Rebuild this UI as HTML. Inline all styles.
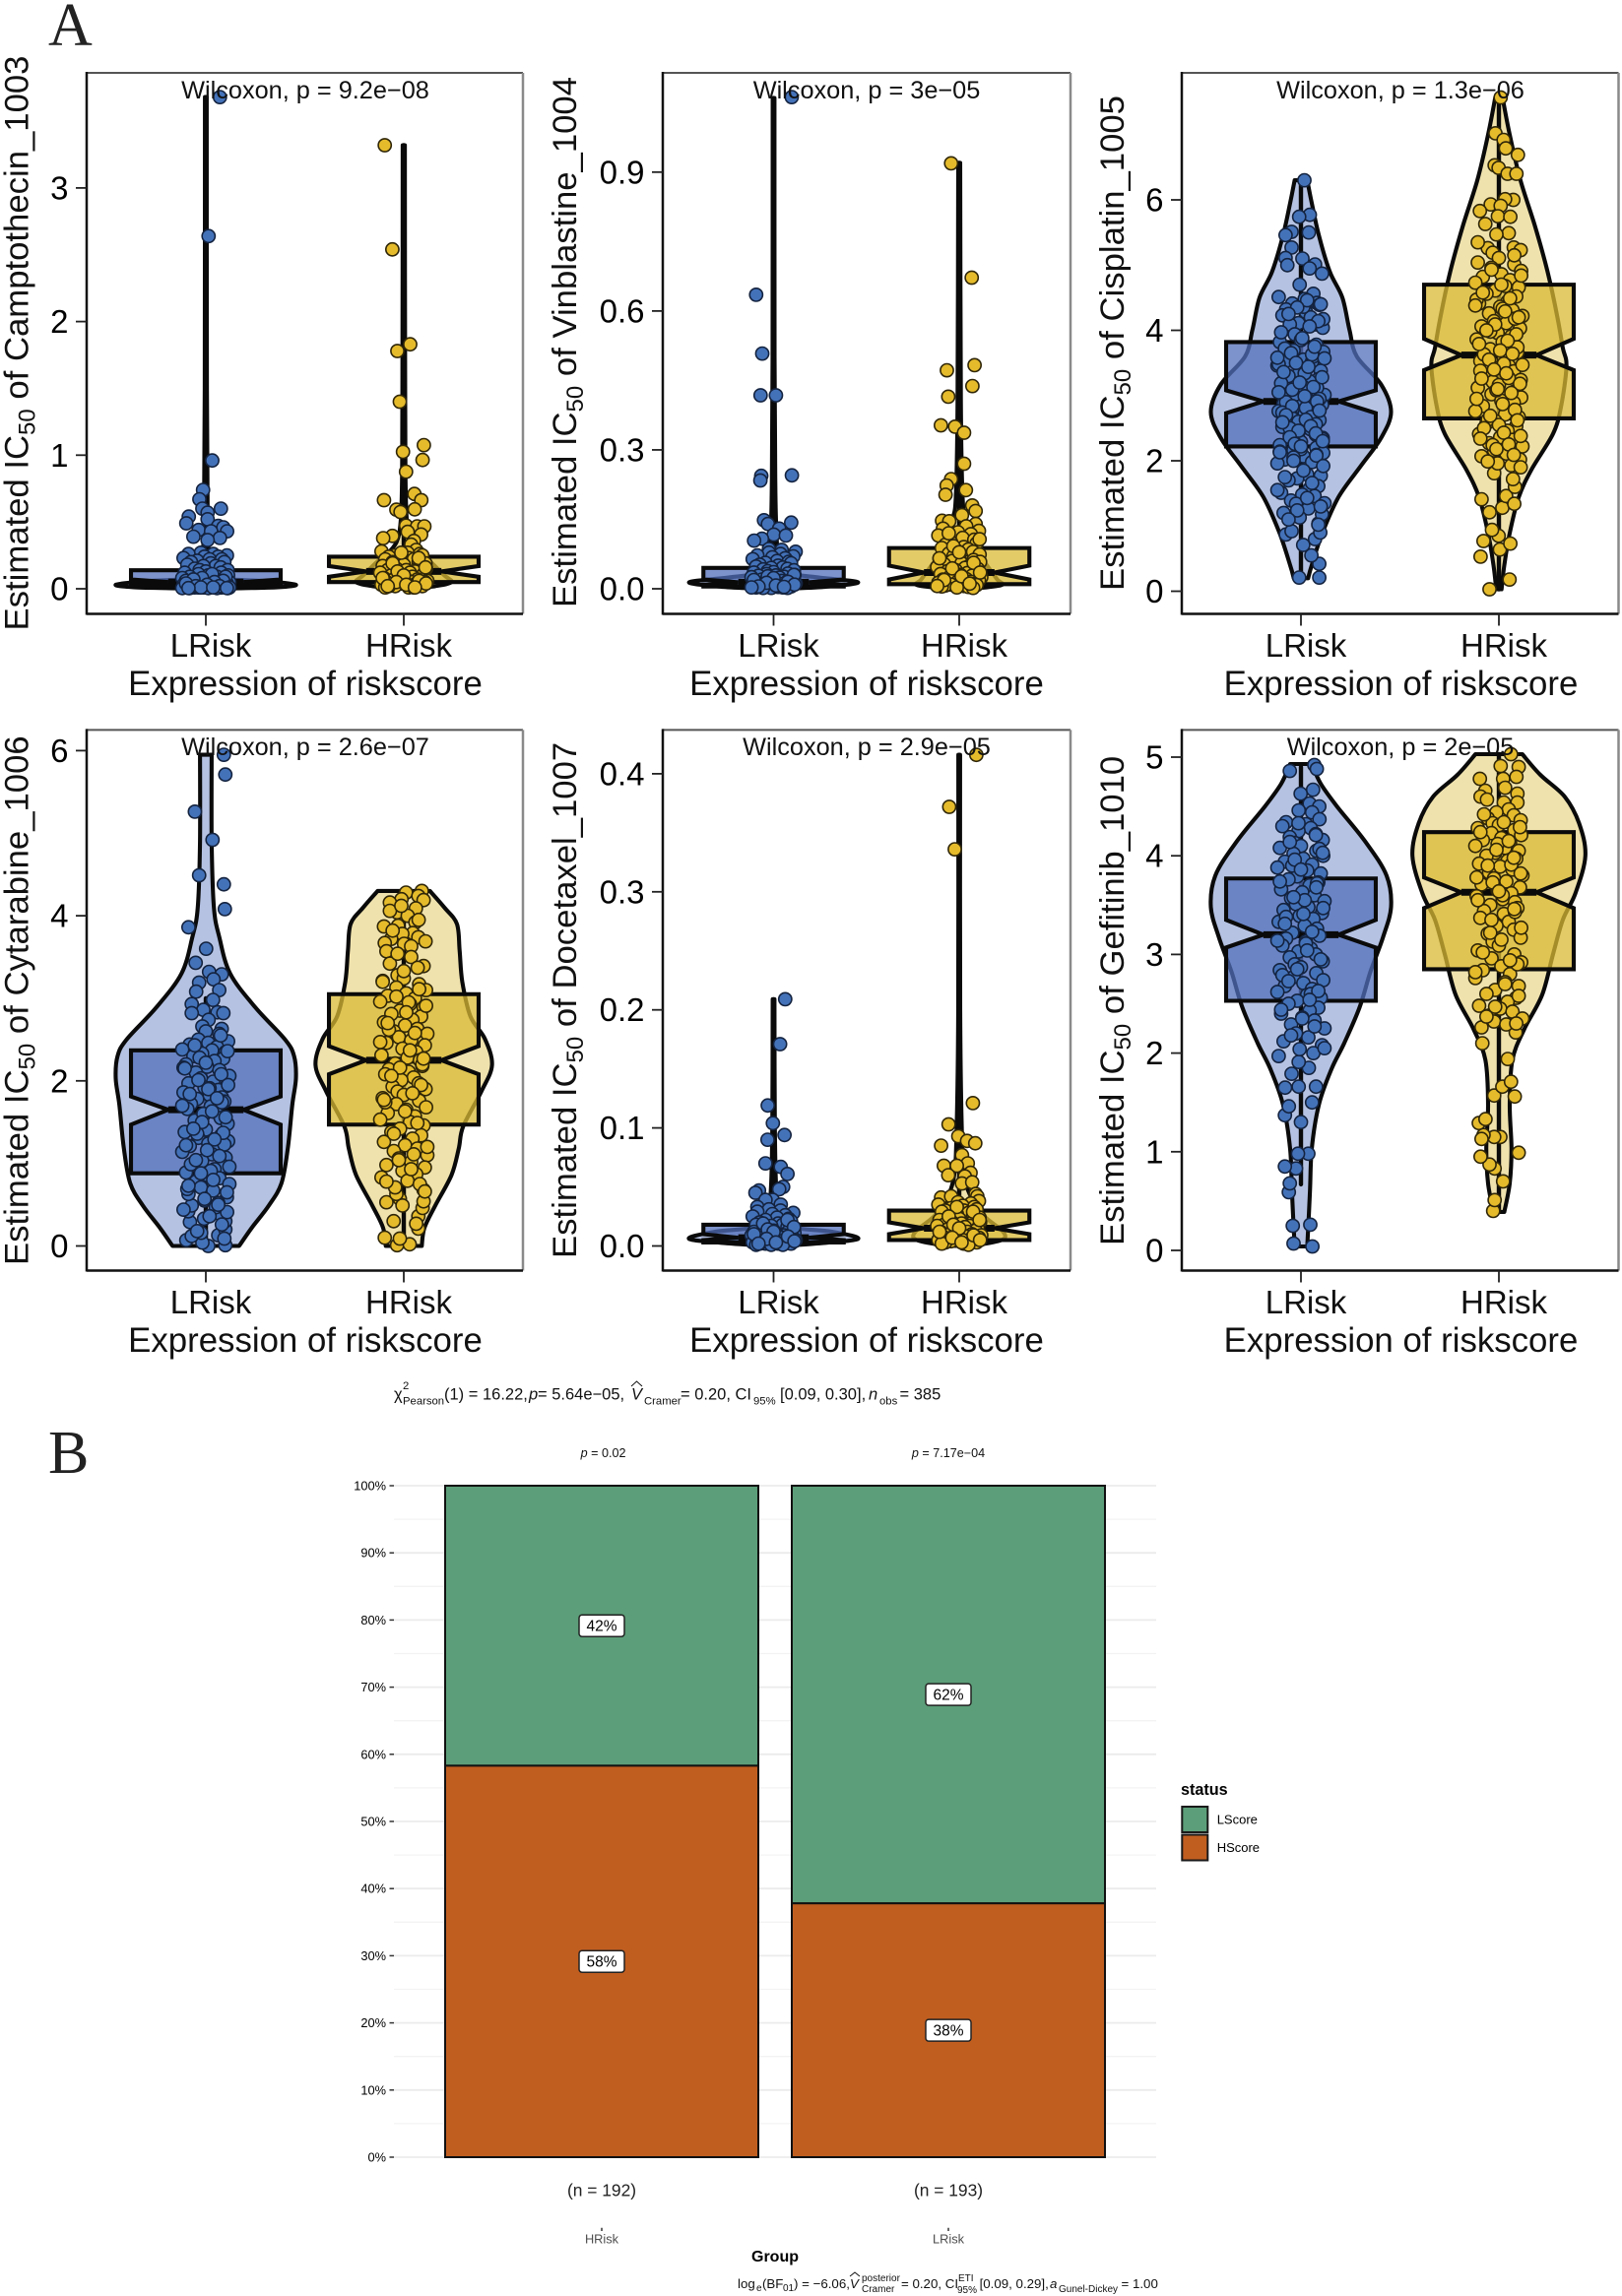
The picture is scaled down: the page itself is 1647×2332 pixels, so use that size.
<!DOCTYPE html>
<html lang="en">
<head>
<meta charset="utf-8">
<title>IC50 violin plots and risk score composition</title>
<style>
html,body{margin:0;padding:0;background:#fff;width:1647px;height:2332px;overflow:hidden}
svg{display:block}
text{font-family:"Liberation Sans",sans-serif;fill:#000}
.xt{font-size:33px;text-anchor:middle;fill:#111}
.xl{font-size:34.8px;text-anchor:middle;fill:#111}
.yl{font-size:34.7px;fill:#111}
.ys{font-size:24px}
.wx{font-size:25.3px;text-anchor:middle;fill:#111}
.lt{font-family:"Liberation Serif",serif;font-size:62px;fill:#222}
.st{font-size:16.5px;fill:#111}
.ss{font-size:11.3px;fill:#111}
.cp{font-size:13.3px;fill:#111}
.cs{font-size:10px;fill:#111}
.pv{font-size:12.6px;text-anchor:middle;fill:#111}
.nn{font-size:17.4px;text-anchor:middle;fill:#222}
.cat{font-size:12.8px;text-anchor:middle;fill:#4d4d4d}
i,.it{font-style:italic}
</style>
</head>
<body>
<svg id="figure" xmlns="http://www.w3.org/2000/svg" width="1647" height="2332" viewBox="0 0 1647 2332">
<rect width="1647" height="2332" fill="#fff"/>
<g id="marks"></g>
<g id="stack"></g>

<text class="lt" x="49" y="46">A</text>
<text class="lt" x="49" y="1496" font-size="60">B</text>

<text class="wx" x="310" y="100">Wilcoxon, p = 9.2e−08</text>
<text class="wx" x="880" y="100">Wilcoxon, p = 3e−05</text>
<text class="wx" x="1422" y="100">Wilcoxon, p = 1.3e−06</text>
<text class="wx" x="310" y="767">Wilcoxon, p = 2.6e−07</text>
<text class="wx" x="880" y="767">Wilcoxon, p = 2.9e−05</text>
<text class="wx" x="1422" y="767">Wilcoxon, p = 2e−05</text>

<text class="yl" transform="rotate(-90 28.6 640.5)" x="28.6" y="640.5">Estimated IC<tspan class="ys" dy="7">50</tspan><tspan dy="-7"> of Camptothecin_1003</tspan></text>
<text class="yl" transform="rotate(-90 585 617)" x="585" y="617">Estimated IC<tspan class="ys" dy="7">50</tspan><tspan dy="-7"> of Vinblastine_1004</tspan></text>
<text class="yl" transform="rotate(-90 1141 600)" x="1141" y="600">Estimated IC<tspan class="ys" dy="7">50</tspan><tspan dy="-7"> of Cisplatin_1005</tspan></text>
<text class="yl" transform="rotate(-90 28.6 1285)" x="28.6" y="1285">Estimated IC<tspan class="ys" dy="7">50</tspan><tspan dy="-7"> of Cytarabine_1006</tspan></text>
<text class="yl" transform="rotate(-90 585 1278)" x="585" y="1278">Estimated IC<tspan class="ys" dy="7">50</tspan><tspan dy="-7"> of Docetaxel_1007</tspan></text>
<text class="yl" transform="rotate(-90 1141 1265)" x="1141" y="1265">Estimated IC<tspan class="ys" dy="7">50</tspan><tspan dy="-7"> of Gefitinib_1010</tspan></text>

<text class="xl" x="310" y="706">Expression of riskscore</text>
<text class="xl" x="880" y="706">Expression of riskscore</text>
<text class="xl" x="1422.5" y="706">Expression of riskscore</text>
<text class="xl" x="310" y="1373">Expression of riskscore</text>
<text class="xl" x="880" y="1373">Expression of riskscore</text>
<text class="xl" x="1422.5" y="1373">Expression of riskscore</text>

<g>
<text class="st" y="1421.7"><tspan x="400">χ</tspan><tspan class="ss" x="409" y="1411">2</tspan><tspan class="ss" x="409" y="1426.5">Pearson</tspan><tspan x="451" y="1421.7">(1) = 16.22,</tspan><tspan class="it" x="537">p</tspan><tspan x="546">= 5.64e−05,</tspan><tspan class="it" x="641">V</tspan><tspan class="ss" x="654" y="1426.5">Cramer</tspan><tspan x="691" y="1421.7">= 0.20, CI</tspan><tspan class="ss" x="765" y="1426.5">95%</tspan><tspan x="792" y="1421.7">[0.09, 0.30],</tspan><tspan class="it" x="882">n</tspan><tspan class="ss" x="893" y="1426.5">obs</tspan><tspan x="913.5" y="1421.7">= 385</tspan></text>
<path d="M641 1408 L646.5 1403 L652 1408" fill="none" stroke="#111" stroke-width="1"/>
</g>

<text class="pv" x="612.6" y="1480"><tspan class="it">p</tspan> = 0.02</text>
<text class="pv" x="963" y="1480"><tspan class="it">p</tspan> = 7.17e−04</text>

<text class="nn" x="611" y="2230.7">(n = 192)</text>
<text class="nn" x="963" y="2230.7">(n = 193)</text>
<path d="M611 2262.7V2266M963 2262.7V2266" stroke="#333" stroke-width="1.5"/>
<text class="cat" x="611" y="2278.7">HRisk</text>
<text class="cat" x="963" y="2278.7">LRisk</text>
<text x="763" y="2297" font-size="16" font-weight="bold">Group</text>

<g>
<text class="cp" y="2324"><tspan x="749">log</tspan><tspan class="cs" x="768" y="2327">e</tspan><tspan x="774" y="2324">(BF</tspan><tspan class="cs" x="795" y="2327">01</tspan><tspan x="806" y="2324">) = −6.06,</tspan><tspan class="it" x="863">V</tspan><tspan class="cs" x="875" y="2317">posterior</tspan><tspan class="cs" x="875" y="2328">Cramer</tspan><tspan x="915" y="2324">= 0.20, CI</tspan><tspan class="cs" x="973" y="2317">ETI</tspan><tspan class="cs" x="972" y="2329">95%</tspan><tspan x="994.6" y="2324">[0.09, 0.29],</tspan><tspan class="it" x="1066">a</tspan><tspan class="cs" x="1075" y="2328">Gunel-Dickey</tspan><tspan x="1138.5" y="2324">= 1.00</tspan></text>
<path d="M863 2312 L868 2308 L873 2312" fill="none" stroke="#111" stroke-width="1"/>
</g>

<g>
<text x="1199" y="1823" font-size="16.2" font-weight="bold">status</text>
<rect x="1200.3" y="1835" width="26" height="26" fill="#5c9e79" stroke="#1a1a1a" stroke-width="2"/>
<rect x="1200.3" y="1863.5" width="26" height="26" fill="#c05e20" stroke="#1a1a1a" stroke-width="2"/>
<text x="1235.7" y="1852.7" font-size="13" fill="#222">LScore</text>
<text x="1235.7" y="1881" font-size="13" fill="#222">HScore</text>
</g>
</svg>

<script>
/* ---------- shared jitter offsets (fraction of jitter band) ---------- */
const jitterCycle=[-.85,.62,-.3,.9,.1,-.65,.45,-.95,.25,.8,-.15,-.5,.7,.35,-.8,.05,.55,-.4,.95,-.2,.3,-.7,.85,-.05,.5,-.9,.15,.65,-.35,.75,-.6,.2,-.75,.4,-.1,.6,-.45,.88,-.25,0];

/* ---------- Camptothecin ---------- */
const campTicks=[0,1,2,3];
const campLowValues=[3.68,2.64,.96,.74,.67,.6,.6,.57,.54,.49,.52,.47,.46,.43,.44,.43,.39,.38,.365,.27,.26,.26,.25,.24,.24,.23,.22,.22,.21,.2,.2,.19,.18,.17,.17,.16,.15,.14,.14,.13,.12,.12,.11,.1,.1,.09,.09,.08,.08,.07,.07,.07,.06,.06,.06,.05,.05,.05,.05,.04,.04,.04,.04,.03,.03,.03,.03,.03,.02,.02,.02,.02,.02,.02,.01,.01,.01,.01,.01,.01,.01,.01,.01,.005,.005,.005,.005,.005,.11,.09,.08,.07,.06,.05,.04,.03,.02,.02,.01,.01,.01,.005,.005];
const campLowJitter=[.57,.11,.26,-.11,-.26,.61,-.14,.07,-.69,-.79,.07,.5,.71,.86,-.29,.21,-.5,.57,.07];
const campLowViolinY=[3.68,1.5,.6,.3,.14,.09,.07,.055,.03,.012,.003,0];
const campLowViolinD=[.01,.012,.02,.03,.05,.09,.3,.7,1,.8,.3,.05];
const campLowBox=[.03,.035,.05,.07,.139];
const campLowWhisker=[0,3.68];
const campHighValues=[3.32,2.54,1.83,1.78,1.4,1.075,1.025,.964,.876,.71,.663,.663,.595,.592,.575,.473,.467,.467,.426,.406,.396,.379,.358,.33,.29,.28,.27,.26,.25,.25,.24,.23,.22,.22,.21,.2,.2,.19,.18,.18,.17,.16,.15,.15,.14,.14,.13,.12,.12,.11,.11,.1,.09,.09,.08,.08,.07,.07,.06,.06,.05,.05,.05,.04,.04,.03,.03,.03,.02,.02,.02,.01,.01,.01,.27,.23,.19,.16,.13,.1,.08,.06,.05,.04,.03,.02,.01];
const campHighJitter=[-.77,-.46,.26,-.26,-.16,.81,-.03,.76,.09,.43,-.8,.71,.44,-.3,-.13,.09,.54,.83,.16,.7,-.46,-.83,.41,.3];
const campHighViolinY=[3.32,1.5,.8,.5,.35,.25,.2,.1,.05,.02,0];
const campHighViolinD=[.012,.015,.02,.035,.08,.2,.3,.45,.53,.35,.1];
const campHighBox=[.05,.09,.13,.17,.24];
const campHighWhisker=[0,3.32];

/* ---------- Vinblastine ---------- */
const vinTicks=[0,.3,.6,.9];
const vinLowValues=[1.062,.635,.508,.418,.418,.245,.244,.234,.148,.143,.14,.13,.117,.115,.108,.104,.086,.084,.08,.078,.075,.072,.07,.068,.066,.064,.06,.058,.056,.055,.052,.05,.048,.046,.045,.043,.042,.04,.038,.036,.035,.033,.032,.03,.029,.028,.026,.025,.024,.022,.021,.02,.018,.017,.016,.015,.014,.012,.012,.011,.01,.01,.009,.008,.008,.007,.006,.006,.005,.005,.004,.004,.003,.003,.002,.002,.002,.03,.027,.023,.019,.015,.013,.009,.007,.005,.004,.003];
const vinLowJitter=[.78,-.75,-.49,-.56,.1,.79,-.53,-.57,-.41,.76,-.24,.24,.01,.53,-.5,-.84,-.2,.35];
const vinLowViolinY=[1.06,.5,.24,.14,.06,.035,.025,.014,.004,0];
const vinLowViolinD=[.01,.012,.02,.03,.06,.15,.5,1,.6,.1];
const vinLowBox=[.005,.009,.014,.02,.045];
const vinLowWhisker=[0,1.06];
const vinHighValues=[.919,.672,.483,.472,.438,.415,.353,.35,.337,.27,.237,.223,.213,.203,.18,.168,.159,.147,.146,.14,.135,.13,.125,.122,.118,.115,.11,.106,.1,.098,.095,.09,.088,.085,.082,.08,.076,.074,.07,.068,.065,.062,.06,.058,.055,.053,.05,.047,.045,.043,.04,.038,.036,.034,.032,.03,.028,.026,.025,.023,.021,.02,.018,.016,.015,.013,.012,.01,.009,.008,.007,.006,.005,.004,.003,.002,.12,.107,.092,.079,.066,.056,.044,.035,.027,.019,.011,.006];
const vinHighJitter=[-.35,.54,.66,-.53,.57,-.47,-.79,-.18,.21,.21,-.35,-.54,.29,-.59,.56,.71,.12,-.74,-.43,.71];
const vinHighViolinY=[.92,.4,.2,.15,.09,.05,.02,.008,0];
const vinHighViolinD=[.012,.02,.04,.08,.17,.33,.45,.5,.15];
const vinHighBox=[.01,.02,.035,.05,.088];
const vinHighWhisker=[0,.92];

/* ---------- Cisplatin ---------- */
const cisTicks=[0,2,4,6];
const cisLowValues=[6.3,5.77,5.74,5.5,5.51,5.46,5.27,5.11,5.1,5.01,5,4.95,.21,.21,.42,.55,.71,.8,.87,.9,.92,1.04,4.87,4.7,4.56,4.51,4.48,4.42,4.41,4.39,4.32,4.28,4.23,4.2,4.11,4.09,4.09,4.04,3.94,3.85,3.82,3.78,3.69,3.67,3.55,3.52,3.52,3.46,3.42,3.38,3.31,3.3,3.25,3.22,3.19,3.15,3.07,3.03,3.01,2.97,2.93,2.88,2.86,2.83,2.79,2.76,2.72,2.69,2.65,2.62,2.58,2.55,2.52,2.48,2.44,2.4,2.38,2.35,2.31,2.29,2.24,2.2,2.16,2.12,2.07,2.02,1.98,1.96,1.79,1.77,1.73,1.7,1.61,1.57,1.51,1.48,1.46,1.39,1.35,1.34,1.27,1.2,1.18,1.13,3.6,3.48,3.34,3.12,3.09,2.95,2.9,2.81,2.74,2.67,2.6,2.56,2.5,2.33,2.27,2.18,2.14,2.09,2.05,4.17,4.36,3.72,3.63,3.58,4.46,4.4,4.35,4.25,4.14,4.06,3.97,3.88,3.75,3.65,3.57,3.5,3.44,3.36,3.28,3.2,3.13,3.05,2.99,2.91,2.84,2.77,2.7,2.63,2.59,2.53,2.46,2.42,2.36,2.3,2.26,2.22,2.13,2.08,2,1.92,1.85,1.75,1.66,1.55,1.43,1.3,1.24,1.1,1.02];
const cisLowJitter=[.14,.36,-.07,.32,-.38,-.62,-.38,-.62,.06,.57,-.55,.35,.74,-.07,.74,.42,.09,.57,-.61,.78,-.38,.71];
const cisLowViolinY=[6.3,5.95,5.45,4.9,4.5,4,3.6,3.17,2.75,2.35,1.93,1.45,.9,.4,.2];
const cisLowViolinD=[.07,.12,.2,.32,.46,.54,.62,.89,1,.89,.67,.42,.24,.12,.08];
const cisLowBox=[2.22,2.73,2.91,3.08,3.82];
const cisLowWhisker=[.2,6.3];
const cisHighValues=[7.57,7.02,6.92,6.79,6.69,6.53,6.49,6.4,6.4,6,6.01,5.93,5.83,5.91,5.75,5.74,5.63,.03,.18,.53,.64,.77,.73,.85,.94,1.28,1.21,1.41,1.46,1.34,1.6,1.72,1.81,5.49,5.47,5.27,5.26,5.23,5.19,5.11,5.04,5.01,4.96,4.91,4.86,4.82,4.77,4.73,4.68,4.66,4.61,4.56,4.52,4.44,4.41,4.36,4.31,4.26,4.22,4.14,4.11,4.06,4.03,3.96,3.91,3.86,3.82,3.77,3.71,3.66,3.61,3.57,3.53,3.46,3.42,3.37,3.31,3.24,3.21,3.16,3.12,3.06,3.02,2.97,2.92,2.84,2.81,2.76,2.71,2.67,2.61,2.57,2.53,2.46,2.41,2.36,2.32,2.27,2.22,2.16,2.11,2.07,2.02,1.96,1.93,4.47,4.33,4.18,3.98,3.74,3.63,3.49,3.38,3.27,3.08,2.89,2.63,2.38,2.24,2.55,5.35,5.15,4.93,4.84,4.7,4.58,4.49,4.38,4.29,4.2,4.09,4,3.94,3.84,3.79,3.69,3.64,3.55,3.47,3.4,3.34,3.26,3.18,3.1,3.04,2.95,2.87,2.78,2.69,2.62,2.5,2.43,2.34,2.25,2.18,2.09,1.99,1.9];
const cisHighJitter=[.07,-.14,.19,.28,.77,-.17,-.01,.35,.71,.58,.25,-.33,-.77,.07,-.04,.46,-.55,-.38,.43,-.74,.04,-.62,.46,-.01,-.28,.14,-.38,-.7,.29,.62,.65,.57,-.19];
const cisHighViolinY=[7.57,7,6.3,5.6,4.9,4.2,3.73,3.45,2.83,2.41,1.86,1.44,.89,.4,.03];
const cisHighViolinD=[.04,.12,.24,.4,.54,.65,.71,.75,.69,.6,.36,.22,.12,.06,.03];
const cisHighBox=[2.65,3.39,3.62,3.87,4.7];
const cisHighWhisker=[.03,7.57];

/* ---------- Cytarabine ---------- */
const cytTicks=[0,2,4,6];
const cytLowValues=[5.95,5.71,5.26,4.92,4.49,4.38,4.08,3.86,3.6,3.43,3.32,3.29,3.23,3.19,3.1,3.08,2.98,2.93,2.86,2.82,2.83,2.82,2.74,2.66,2.63,2.6,2.57,.01,0,.07,.04,.13,.2,.16,.12,.29,.3,.33,.38,.41,.42,.49,2.5,2.48,2.46,2.44,2.41,2.38,2.37,2.35,2.33,2.3,2.27,2.24,2.2,2.17,2.13,2.1,2.06,2.03,1.99,1.97,1.94,1.92,1.89,1.86,1.83,1.8,1.78,1.75,1.72,1.69,1.66,1.62,1.58,1.55,1.52,1.48,1.44,1.41,1.38,1.34,1.31,1.27,1.24,1.21,1.17,1.14,1.11,1.07,1.03,1,.97,.93,.89,.86,.82,.78,.75,.71,.67,.63,.59,.55,.52,2.16,1.91,1.74,1.36,1.23,.99,.91,.69,.47,1.6,2.55,2.43,2.36,2.28,2.22,2.15,2.08,2.01,1.95,1.9,1.84,1.79,1.7,1.63,1.56,1.5,1.42,1.37,1.29,1.22,1.16,1.09,1.04,.96,.88,.8,.73,.65,.57,.5,.44,.36,.26,.18,.09];
const cytLowJitter=[.73,.79,-.44,.27,-.27,.73,.77,-.7,.01,-.41,.13,.64,.31,-.27,.54,-.39,.29,-.57,-.1,-.57,.47,.71,.11,-.14,.64,0,.54,.79,.1,-.79,-.14,.5,.79,-.19,-.57,-.64,.79,-.07,.61,.86,-.71,-.57];
const cytLowViolinY=[5.95,4.9,4.1,3.74,3.3,2.89,2.5,2.3,2.03,1.71,1.18,.76,.49,.22,0];
const cytLowViolinD=[.065,.065,.09,.15,.27,.55,.88,.98,1,.96,.91,.84,.7,.51,.37];
const cytLowBox=[.88,1.47,1.65,1.81,2.37];
const cytLowWhisker=[0,3.0];
const cytHighValues=[4.28,4.3,4.24,4.19,4.2,4.16,4.09,4.04,4.06,4,3.92,3.87,3.88,3.79,3.78,3.74,3.72,3.67,3.66,3.63,3.57,3.5,3.42,3.39,3.37,.1,.01,.02,.09,.21,.3,.36,.46,.54,.53,.57,.63,.68,3.28,3.24,3.21,3.17,3.13,3.1,3.06,3.03,3,2.96,2.93,2.89,2.85,2.81,2.78,2.74,2.71,2.67,2.63,2.6,2.57,2.53,2.49,2.46,2.43,2.39,2.35,2.31,2.28,2.25,2.21,2.18,2.14,2.11,2.08,2.04,2.01,1.97,1.93,1.9,1.87,1.83,1.79,1.76,1.72,1.68,1.65,1.61,1.57,1.53,1.5,1.46,1.42,1.38,1.34,1.3,1.26,1.22,1.18,1.15,1.1,1.06,1.02,.98,.95,.91,.87,.83,.79,.75,.71,2.2,2.62,2.95,1.74,1.11,4.12,3.95,3.82,3.69,3.54,3.33,3.2,3.11,3.02,2.91,2.83,2.7,2.58,2.47,2.37,2.27,2.16,2.06,1.95,1.85,1.77,1.63,1.49,1.36,1.2,1.04,.93,.78,.66,.49,.27];
const cytHighJitter=[.09,.73,.59,.8,-.09,-.56,.49,-.27,-.56,.16,.47,-.8,-.23,.37,-.06,.59,-.51,-.77,.01,.3,-.7,.3,-.56,.8,.56,-.77,-.27,.24,-.16,.59,-.41,.59,.76,.8,-.7,-.16,-.3,.8];
const cytHighViolinY=[4.3,4.1,3.9,3.58,3.2,2.78,2.51,2.19,1.87,1.45,1.18,.86,.49,.22,0];
const cytHighViolinD=[.29,.45,.59,.62,.65,.74,.9,.98,.86,.66,.61,.53,.35,.23,.2];
const cytHighBox=[1.47,2.08,2.25,2.42,3.05];
const cytHighWhisker=[0,4.3];

/* ---------- Docetaxel ---------- */
const docTicks=[0,.1,.2,.3,.4];
const docLowValues=[.209,.171,.119,.104,.094,.09,.07,.067,.061,.05,.048,.047,.045,.039,.039,.035,.033,.026,.024,.031,.03,.029,.028,.027,.026,.025,.024,.023,.022,.021,.02,.019,.018,.018,.017,.016,.015,.015,.014,.013,.012,.012,.011,.011,.01,.01,.009,.009,.008,.008,.008,.007,.007,.007,.006,.006,.006,.005,.005,.005,.004,.004,.004,.004,.003,.003,.003,.003,.002,.002,.002,.002,.001,.001,.001,.022,.019,.016,.014,.012,.01,.008,.006,.004,.003,.002];
const docLowJitter=[.5,.28,-.25,-.03,.47,-.26,-.35,.31,.6,.41,.24,-.63,-.78,-.04,-.35,.31,-.7,.6,-.18];
const docLowViolinY=[.209,.1,.05,.025,.016,.012,.006,.002,0];
const docLowViolinD=[.01,.015,.03,.07,.2,.7,1,.5,.05];
const docLowBox=[.003,.005,.007,.01,.018];
const docLowWhisker=[0,.209];
const docHighValues=[.416,.372,.336,.121,.103,.093,.089,.087,.085,.077,.068,.07,.068,.062,.059,.06,.053,.054,.044,.041,.042,.042,.038,.037,.036,.035,.034,.033,.032,.031,.03,.03,.029,.028,.027,.026,.025,.024,.024,.023,.022,.021,.02,.02,.019,.018,.017,.017,.016,.015,.014,.014,.013,.012,.012,.011,.01,.01,.009,.009,.008,.008,.007,.006,.006,.005,.005,.004,.004,.003,.003,.002,.002,.001,.033,.029,.025,.022,.018,.015,.012,.009,.007,.005,.003];
const docHighJitter=[.74,-.43,-.19,.59,-.46,-.04,.34,.69,-.78,.12,-.66,.37,-.1,.49,.24,-.47,.12,.56,.71,-.78,-.35,.78];
const docHighViolinY=[.416,.2,.1,.06,.04,.025,.012,.005,0];
const docHighViolinD=[.01,.012,.03,.06,.15,.3,.52,.5,.15];
const docHighBox=[.005,.01,.015,.02,.03];
const docHighWhisker=[0,.416];

/* ---------- Gefitinib ---------- */
const gefTicks=[0,1,2,3,4,5];
const gefLowValues=[4.92,4.88,4.86,4.67,4.63,4.53,4.5,4.44,4.46,.04,.07,.26,.25,.59,.68,.83,.85,.98,.98,1.3,1.37,1.46,1.5,1.66,1.66,1.65,1.79,1.85,1.91,4.37,4.34,4.32,4.3,4.28,4.25,4.22,4.19,4.16,4.13,4.1,4.08,4.05,4.02,4,3.97,3.94,3.91,3.88,3.85,3.82,3.79,3.76,3.73,3.7,3.66,3.63,3.6,3.57,3.54,3.51,3.48,3.45,3.42,3.39,3.36,3.33,3.29,3.26,3.22,3.19,3.16,3.13,3.09,3.06,3.03,3,2.97,2.93,2.9,2.87,2.84,2.81,2.77,2.74,2.71,2.68,2.65,2.62,2.59,2.56,2.53,2.5,2.46,2.43,2.4,2.36,2.33,2.29,2.25,2.2,2.16,2.12,2.08,2.04,2,1.97,3.55,3.72,3.9,4.07,3.38,3.11,2.79,2.6,4.33,4.21,4.14,4.03,3.96,3.86,3.74,3.68,3.58,3.47,3.41,3.31,3.23,3.14,3.04,2.95,2.85,2.73,2.63,2.54,2.44,2.35,2.27,2.18,2.05];
const gefLowJitter=[.54,.64,-.45,.49,-.01,.35,.74,.45,-.09,.46,-.3,.38,-.33,-.49,-.45,-.2,-.65,.3,-.12,0,-.65,-.49,.45,.61,-.09,-.64,-.38,.32,-.09];
const gefLowViolinY=[4.93,4.73,4.5,4.15,3.8,3.48,3.17,2.82,2.46,2.1,1.84,1.48,1.03,.59,.04];
const gefLowViolinD=[.12,.22,.4,.71,.95,1,.91,.77,.65,.48,.34,.2,.12,.1,.07];
const gefLowBox=[2.53,3.07,3.2,3.35,3.77];
const gefLowWhisker=[.67,4.9];
const gefHighValues=[5.03,4.91,4.9,4.8,4.78,4.78,4.69,4.66,4.63,4.6,4.57,4.54,4.54,.4,.51,.7,.83,.87,.95,.99,1.15,1.15,1.17,1.13,1.29,1.33,1.56,1.57,1.66,1.71,1.94,2.1,2.21,4.47,4.44,4.41,4.38,4.36,4.33,4.31,4.28,4.26,4.23,4.21,4.18,4.16,4.13,4.1,4.08,4.05,4.03,4,3.97,3.95,3.92,3.89,3.86,3.83,3.8,3.77,3.74,3.71,3.68,3.65,3.62,3.59,3.56,3.53,3.5,3.47,3.44,3.41,3.37,3.33,3.29,3.25,3.21,3.17,3.13,3.09,3.04,3,2.96,2.92,2.88,2.84,2.8,2.76,2.72,2.68,2.64,2.6,2.56,2.52,2.48,2.45,2.42,2.38,2.35,2.32,2.29,2.26,4.29,4.12,3.91,3.78,3.6,3.43,3.22,2.9,4.42,4.34,4.24,4.15,4.06,3.98,3.9,3.82,3.73,3.64,3.55,3.46,3.35,3.27,3.15,3.02,2.94,2.82,2.7,2.58,2.47,2.37,2.3];
const gefHighJitter=[.49,.07,.8,.71,-.77,.17,.25,-.55,.75,-.74,-.48,.2,.75,-.23,-.17,.17,-.17,-.38,-.74,.8,.06,-.19,-.62,-.7,-.81,-.54,.64,-.19,.14,.49,.36,-.67,.68];
const gefHighViolinY=[5.03,4.82,4.6,4.33,4,3.62,3.35,3,2.59,2.24,1.93,1.48,1.03,.68,.39];
const gefHighViolinD=[.26,.46,.73,.89,.96,.85,.71,.6,.48,.28,.15,.12,.14,.12,.06];
const gefHighBox=[2.85,3.47,3.63,3.78,4.24];
const gefHighWhisker=[.39,5.03];

/* ---------- stacked bar (panel B) ---------- */
const stackGroups=['HRisk','LRisk'];
const lScorePercent=[41.7,62.2];
const hScorePercent=[58.3,37.8];
const stackTickLabels=['0%','10%','20%','30%','40%','50%','60%','70%','80%','90%','100%'];
const stackTickValues=[0,10,20,30,40,50,60,70,80,90,100];

/* ---------- layout, not data ---------- */
const categoryLabels=['LRisk','HRisk'];
const COL_BLUE={violin:'#b5c2e2',box:'#516fb9',dot:'#4472b9',dotStroke:'#14233f'};
const COL_GOLD={violin:'#efe2ad',box:'#d9b935',dot:'#e5bb2c',dotStroke:'#2f2608'};
const panels=[
 {id:'camptothecin',ticks:campTicks,fmt:0,left:88,right:531,top:74,bottom:623.5,zero:598,unit:135.7,xL:209,xH:410,
  low:{v:campLowValues,j:campLowJitter,vy:campLowViolinY,vd:campLowViolinD,b:campLowBox,w:campLowWhisker},
  high:{v:campHighValues,j:campHighJitter,vy:campHighViolinY,vd:campHighViolinD,b:campHighBox,w:campHighWhisker}},
 {id:'vinblastine',ticks:vinTicks,fmt:1,left:673,right:1087,top:74,bottom:623.5,zero:598,unit:470.2,xL:785.5,xH:974,
  low:{v:vinLowValues,j:vinLowJitter,vy:vinLowViolinY,vd:vinLowViolinD,b:vinLowBox,w:vinLowWhisker},
  high:{v:vinHighValues,j:vinHighJitter,vy:vinHighViolinY,vd:vinHighViolinD,b:vinHighBox,w:vinHighWhisker}},
 {id:'cisplatin',ticks:cisTicks,fmt:0,left:1200,right:1643.5,top:74,bottom:623.5,zero:600.5,unit:66.25,xL:1321,xH:1522,
  low:{v:cisLowValues,j:cisLowJitter,vy:cisLowViolinY,vd:cisLowViolinD,b:cisLowBox,w:cisLowWhisker},
  high:{v:cisHighValues,j:cisHighJitter,vy:cisHighViolinY,vd:cisHighViolinD,b:cisHighBox,w:cisHighWhisker}},
 {id:'cytarabine',ticks:cytTicks,fmt:0,left:88,right:531,top:741.4,bottom:1290.5,zero:1265.5,unit:83.85,xL:209,xH:410,
  low:{v:cytLowValues,j:cytLowJitter,vy:cytLowViolinY,vd:cytLowViolinD,b:cytLowBox,w:cytLowWhisker},
  high:{v:cytHighValues,j:cytHighJitter,vy:cytHighViolinY,vd:cytHighViolinD,b:cytHighBox,w:cytHighWhisker}},
 {id:'docetaxel',ticks:docTicks,fmt:1,left:673,right:1087,top:741.4,bottom:1290.5,zero:1265.5,unit:1199,xL:785.5,xH:974,
  low:{v:docLowValues,j:docLowJitter,vy:docLowViolinY,vd:docLowViolinD,b:docLowBox,w:docLowWhisker},
  high:{v:docHighValues,j:docHighJitter,vy:docHighViolinY,vd:docHighViolinD,b:docHighBox,w:docHighWhisker}},
 {id:'gefitinib',ticks:gefTicks,fmt:0,left:1200,right:1643.5,top:741.4,bottom:1290.5,zero:1270,unit:100.2,xL:1321,xH:1522,
  low:{v:gefLowValues,j:gefLowJitter,vy:gefLowViolinY,vd:gefLowViolinD,b:gefLowBox,w:gefLowWhisker},
  high:{v:gefHighValues,j:gefHighJitter,vy:gefHighViolinY,vd:gefHighViolinD,b:gefHighBox,w:gefHighWhisker}}
];

const NS='http://www.w3.org/2000/svg';
function el(parent,tag,attrs,txt){
  const n=document.createElementNS(NS,tag);
  for(const k in attrs)n.setAttribute(k,attrs[k]);
  if(txt!==undefined)n.textContent=txt;
  parent.appendChild(n);
  return n;
}
function spline(pts){
  let d='';
  for(let i=0;i<pts.length-1;i++){
    const p0=pts[Math.max(0,i-1)],p1=pts[i],p2=pts[i+1],p3=pts[Math.min(pts.length-1,i+2)];
    const c1x=p1[0]+(p2[0]-p0[0])/6,c1y=p1[1]+(p2[1]-p0[1])/6;
    const c2x=p2[0]-(p3[0]-p1[0])/6,c2y=p2[1]-(p3[1]-p1[1])/6;
    d+='C'+c1x.toFixed(1)+' '+c1y.toFixed(1)+' '+c2x.toFixed(1)+' '+c2y.toFixed(1)+' '+p2[0].toFixed(1)+' '+p2[1].toFixed(1);
  }
  return d;
}
function drawGroup(g,p,series,cx,col,tag){
  const spacing=p.xH-p.xL;
  const yScale=v=>p.zero-v*p.unit;
  const maxHW=spacing*.455, boxHW=spacing*.378, notchHW=spacing*.19, jitHW=spacing*.125;
  const widthOf=d=>d*maxHW;
  // violin
  const leftPts=series.vy.map((v,i)=>[cx-widthOf(series.vd[i]),yScale(v)]);
  const rightPts=series.vy.map((v,i)=>[cx+widthOf(series.vd[i]),yScale(v)]).reverse();
  const vd='M'+leftPts[0][0].toFixed(1)+' '+leftPts[0][1].toFixed(1)+spline(leftPts)+'L'+rightPts[0][0].toFixed(1)+' '+rightPts[0][1].toFixed(1)+spline(rightPts)+'Z';
  const violin=el(g,'path',{d:vd,fill:col.violin,stroke:'#0a0a0a','stroke-width':4.1,'stroke-linejoin':'round'});
  
  
  // whisker
  const wh=el(g,'line',{x1:cx,x2:cx,y1:yScale(series.w[0]),y2:yScale(series.w[1]),stroke:'#0a0a0a','stroke-width':4.4,'stroke-linecap':'round'});
  
  
  // notched box
  const q1=yScale(series.b[0]),nl=yScale(series.b[1]),md=yScale(series.b[2]),nh=yScale(series.b[3]),q3=yScale(series.b[4]);
  const bd=['M',cx-boxHW,q3,'L',cx+boxHW,q3,'L',cx+boxHW,nh,'L',cx+notchHW,md,'L',cx+boxHW,nl,'L',cx+boxHW,q1,'L',cx-boxHW,q1,'L',cx-boxHW,nl,'L',cx-notchHW,md,'L',cx-boxHW,nh,'Z'].join(' ');
  const box=el(g,'path',{d:bd,fill:col.box,'fill-opacity':.75,stroke:'#0a0a0a','stroke-width':4.1,'stroke-linejoin':'miter'});
  
  
  const med=el(g,'line',{x1:cx-notchHW,x2:cx+notchHW,y1:md,y2:md,stroke:'#0a0a0a','stroke-width':7});
  
  
  // points
  series.v.forEach((v,i)=>{
    const j=series.j[i]!==undefined?series.j[i]:jitterCycle[i%jitterCycle.length];
    const dot=el(g,'circle',{cx:(cx+j*jitHW).toFixed(1),cy:yScale(v).toFixed(1),r:6.6,fill:col.dot,stroke:col.dotStroke,'stroke-width':1.6});
    
    
  });
}
const marks=document.getElementById('marks');
panels.forEach(p=>{
  const g=el(marks,'g',{});
  
  
  drawGroup(g,p,p.low,p.xL,COL_BLUE,p.id+'-lrisk');
  drawGroup(g,p,p.high,p.xH,COL_GOLD,p.id+'-hrisk');
  // frame
  const top=el(g,'line',{x1:p.left,x2:p.right,y1:p.top,y2:p.top,stroke:'#555','stroke-width':2});
  
  
  const right=el(g,'line',{x1:p.right,x2:p.right,y1:p.top,y2:p.bottom,stroke:'#8a8a8a','stroke-width':2.5});
  
  
  const leftAxis=el(g,'line',{x1:p.left,x2:p.left,y1:p.top-1,y2:p.bottom+1,stroke:'#111','stroke-width':2.5});
  
  
  const bottomAxis=el(g,'line',{x1:p.left,x2:p.right,y1:p.bottom,y2:p.bottom,stroke:'#111','stroke-width':2.5});
  
  
  // y ticks
  p.ticks.forEach(t=>{
    const y=p.zero-t*p.unit;
    const tick=el(g,'line',{x1:p.left-11,x2:p.left,y1:y,y2:y,stroke:'#222','stroke-width':1.8});
    
    
    const lab=el(g,'text',{x:p.left-18.5,y:y+11.5,'font-size':33,'text-anchor':'end',fill:'#111'},t.toFixed(p.fmt));
    
    
  });
  // x ticks
  [p.xL,p.xH].forEach((x,i)=>{
    const tick=el(g,'line',{x1:x,x2:x,y1:p.bottom,y2:p.bottom+12,stroke:'#222','stroke-width':1.8});
    
    
    const lab=el(g,'text',{x:x+5,y:p.bottom+43.5,class:'xt'},categoryLabels[i]);
    
    
  });
});

/* ---------- stacked chart ---------- */
const stack=document.getElementById('stack');
const S={x0:400,x1:1174,y0:2191,y100:1509};
const sy=v=>S.y0-(S.y0-S.y100)*v/100;
const sBandX=i=>[611,963][i];
const S_HW=159;
stackTickValues.forEach((t,i)=>{
  const y=sy(t);
  const gl=el(stack,'line',{x1:S.x0,x2:S.x1,y1:y,y2:y,stroke:'#ebebeb','stroke-width':1.8});
  
  
  if(t<100){
    const ym=sy(t+5);
    const gm=el(stack,'line',{x1:S.x0,x2:S.x1,y1:ym,y2:ym,stroke:'#f3f3f3','stroke-width':1.3});
    
    
  }
  const tk=el(stack,'line',{x1:S.x0-4.5,x2:S.x0,y1:y,y2:y,stroke:'#333','stroke-width':1.5});
  
  
  const lab=el(stack,'text',{x:S.x0-8,y:y+4.5,'font-size':12.8,'text-anchor':'end',fill:'#4d4d4d'},stackTickLabels[i]);
  
  
});
stackGroups.forEach((name,i)=>{
  const cx=sBandX(i),h=hScorePercent[i],l=lScorePercent[i];
  const rl=el(stack,'rect',{x:cx-S_HW,width:S_HW*2,y:sy(h+l),height:sy(h)-sy(h+l),fill:'#5c9e79',stroke:'#111','stroke-width':2});
  
  
  const rh=el(stack,'rect',{x:cx-S_HW,width:S_HW*2,y:sy(h),height:sy(0)-sy(h),fill:'#c05e20',stroke:'#111','stroke-width':2});
  
  
  [[l,h+l/2,'lscore'],[h,h/2,'hscore']].forEach(a=>{
    const y=sy(a[1]);
    const bx=el(stack,'rect',{x:cx-23,y:y-11,width:46,height:22,rx:3,fill:'#fff',stroke:'#222','stroke-width':1.5});
    
    
    const tx=el(stack,'text',{x:cx,y:y+5.5,'font-size':15.5,'text-anchor':'middle',fill:'#111'},Math.round(a[0])+'%');
    
    
  });
});
</script>
</body>
</html>
